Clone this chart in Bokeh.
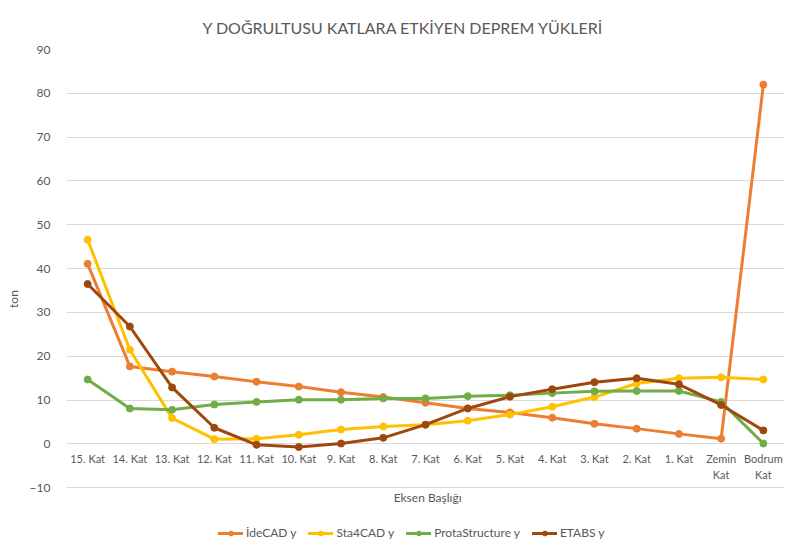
from bokeh.plotting import figure
from bokeh.models import ColumnDataSource, Legend, LegendItem, Label, FixedTicker, FactorRange, Range1d
from bokeh.core.properties import value
from bokeh.embed import file_html
from bokeh.resources import INLINE

categories = ["15. Kat", "14. Kat", "13. Kat", "12. Kat", "11. Kat", "10. Kat", "9. Kat",
              "8. Kat", "7. Kat", "6. Kat", "5. Kat", "4. Kat", "3. Kat", "2. Kat",
              "1. Kat", "Zemin\nKat", "Bodrum\nKat"]
idecad = [41.1, 17.7, 16.5, 15.4, 14.2, 13.1, 11.8, 10.7, 9.4, 8.1, 7.2, 6.0, 4.6, 3.5, 2.3, 1.2, 82.0]
sta4cad = [46.6, 21.5, 5.9, 1.1, 1.2, 2.1, 3.3, 4.0, 4.4, 5.3, 6.7, 8.5, 10.7, 13.8, 15.0, 15.2, 14.7]
prota = [14.7, 8.1, 7.8, 9.0, 9.6, 10.1, 10.1, 10.4, 10.4, 10.9, 11.1, 11.6, 12.0, 12.1, 12.1, 9.6, 0.1]
etabs = [36.5, 26.8, 12.9, 3.7, -0.2, -0.7, 0.1, 1.4, 4.4, 8.1, 10.8, 12.5, 14.1, 15.0, 13.6, 8.9, 3.1]
series_names = ["İdeCAD y", "Sta4CAD y", "ProtaStructure y", "ETABS y"]
series_colors = ["#ED7D31", "#FFC000", "#70AD47", "#9E480E"]
y_ticks = [-10, 0, 10, 20, 30, 40, 50, 60, 70, 80, 90]
title_text = "Y DOĞRULTUSU KATLARA ETKİYEN DEPREM YÜKLERİ"
x_title = "Eksen Başlığı"

FONT = "Lato"
TXT = "#595959"

# lower range extends below -10 so the axis title and legend sit under the last gridline
p = figure(width=785, height=548, x_range=FactorRange(*categories),
           y_range=Range1d(-23.85, 90), output_backend="svg", toolbar_location=None,
           x_axis_location=None, min_border_left=66, min_border_right=1,
           min_border_top=49, min_border_bottom=0)
p.background_fill_color = "white"
p.border_fill_color = "white"
p.outline_line_color = None

p.title.text = title_text
p.title.align = "left"
p.title.offset = 136
p.title.standoff = 26
p.title.text_font = FONT
p.title.text_font_size = "16px"
p.title.text_font_style = "normal"
p.title.text_color = TXT

p.xgrid.grid_line_color = None
p.ygrid.grid_line_color = "#D9D9D9"
p.ygrid.grid_line_width = 1
p.yaxis.ticker = FixedTicker(ticks=y_ticks)
p.yaxis.axis_line_color = None
p.yaxis.major_tick_line_color = None
p.yaxis.minor_tick_line_color = None
p.yaxis.major_label_text_font = FONT
p.yaxis.major_label_text_font_size = "12px"
p.yaxis.major_label_text_color = TXT
p.yaxis.major_label_standoff = 10
p.yaxis.axis_label = "ton"
p.yaxis.axis_label_text_font = FONT
p.yaxis.axis_label_text_font_size = "12px"
p.yaxis.axis_label_text_font_style = "normal"
p.yaxis.axis_label_text_color = TXT
p.yaxis.axis_label_standoff = 6

# category labels placed at the zero line (Excel axis crossing)
lab_src = ColumnDataSource(dict(x=categories, y=[0] * len(categories), t=categories))
p.text(x="x", y="y", text="t", source=lab_src, text_align="center", text_baseline="top",
       y_offset=8, text_font=value(FONT), text_font_size="11px", text_color=TXT,
       text_line_height=1.25)

items = []
for name, vals, col in zip(series_names, [idecad, sta4cad, prota, etabs], series_colors):
    src = ColumnDataSource(dict(x=categories, y=vals))
    l = p.line("x", "y", source=src, line_color=col, line_width=3, line_cap="round", line_join="round")
    s = p.scatter("x", "y", source=src, size=7, fill_color=col, line_color=col)
    items.append(LegendItem(label=name, renderers=[l, s]))

p.add_layout(Label(x=len(categories) / 2 + 0.05, y=-12.2, text=x_title, text_align="center",
                   text_baseline="middle", text_font=FONT, text_font_size="12px",
                   text_color=TXT))

legend = Legend(items=items, orientation="horizontal", location=(152, 8),
                label_text_font=FONT, label_text_font_size="12px", label_text_color=TXT,
                glyph_width=25, glyph_height=12, label_standoff=3, spacing=12,
                border_line_color=None, background_fill_alpha=0, padding=0, margin=0)
p.add_layout(legend)

open("out.html", "w").write(file_html(p, INLINE))
